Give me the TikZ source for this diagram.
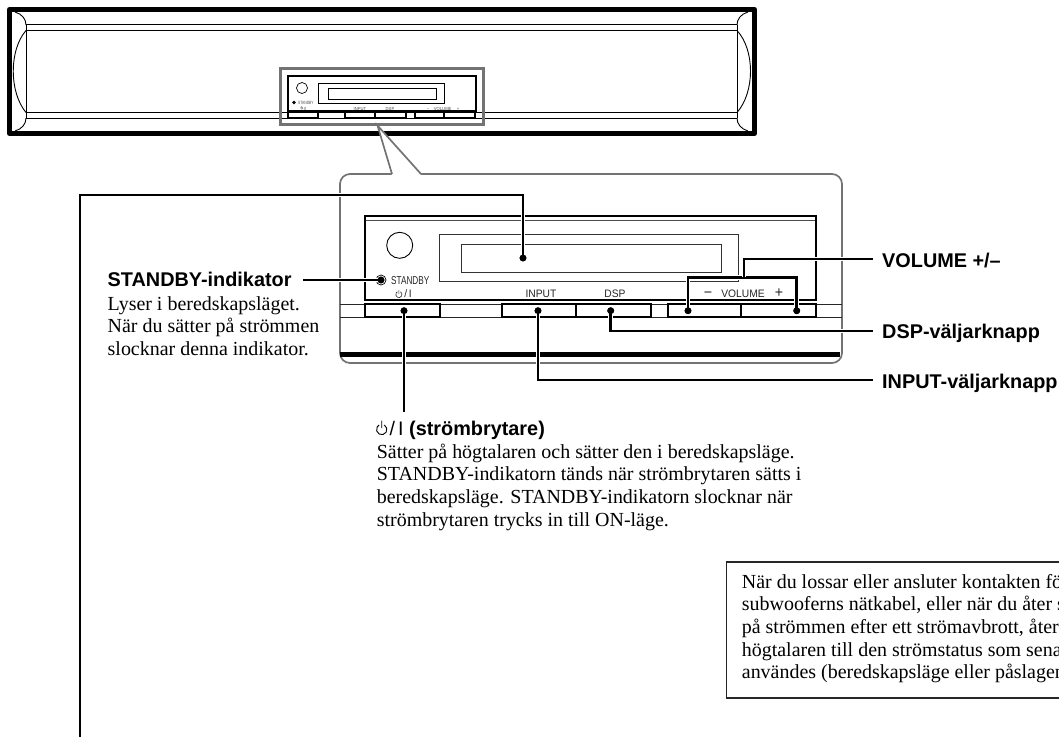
\documentclass[tikz,border=0pt]{standalone}
\usepackage{fontspec}
\setmainfont{Liberation Serif}
\setsansfont{Liberation Sans}
\newfontfamily\narrowf[FakeStretch=0.72]{Liberation Sans}
\newfontfamily\panelf[FakeStretch=0.95]{Liberation Sans}
\newcommand{\fs}[2]{\fontsize{#1}{#2}\selectfont}
\tikzset{
  x=1pt,y=-1pt,
  heavy/.style={line width=5pt,line join=round},
  blk/.style={line width=1.8pt},
  greybox/.style={draw=black!55,line width=1.7pt},
  leader/.style={line width=2.7pt,preaction={draw=white,line width=4.8pt}},
  dotn/.style={circle,fill=black,inner sep=0pt,minimum size=6.8pt},
  ctext/.style={font=\fs{19.95}{22.65}\rmfamily,anchor=north west,inner sep=0pt,align=left},
  head/.style={font=\fs{19.85}{22.7}\sffamily\bfseries,anchor=base west,inner sep=0pt},
  plab/.style={font=\fs{10.8}{11}\panelf,inner sep=0pt,text=black!85,anchor=base},
  slab/.style={font=\fs{4.4}{5}\panelf,inner sep=0pt,text=black!70,anchor=base},
}
\newcommand{\fl}{\rule{0pt}{15pt}}
\begin{document}
\begin{tikzpicture}
\useasboundingbox (0,0) rectangle (1059,739);
% speaker body
\draw[heavy] (9.5,9.5) rectangle (754.5,133.5);
\draw[line width=1pt] (26,24.5) -- (737,24.5) (26,30.5) -- (737,30.5) (26,112.5) -- (737,112.5) (26,118) -- (737,118);
\draw[line width=.9pt] (26,24.5) -- (26,118) (737,24.5) -- (737,118);
\draw[line width=.9pt] (15,12) .. controls (22,14) and (26,19) .. (26,25);
\draw[line width=.9pt] (26,30.5) .. controls (9,50) and (9,92) .. (26,112.5);
\draw[line width=.9pt] (26,118) .. controls (26,124) and (22,129) .. (15,131);
\draw[line width=.9pt] (748,12) .. controls (741,14) and (737,19) .. (737,25);
\draw[line width=.9pt] (737,30.5) .. controls (755,50) and (755,92) .. (737,112.5);
\draw[line width=.9pt] (737,118) .. controls (737,124) and (741,129) .. (748,131);
% small panel
\draw[line width=2pt,fill=white] (287.5,75.5) rectangle (475.5,110.7);
\draw[line width=.7pt] (302,88) circle (5.5);
\draw[line width=.7pt] (318,83) rectangle (444,103);
\draw[line width=.7pt] (328,88) rectangle (436,99);
\fill (294,102.5) circle (1.9);
\node[slab,anchor=west,font=\fs{4.6}{5}\narrowf] (sst) at (298,102.5) {STANDBY};
\draw[line width=.3pt,black!70] (302.5,106.9) arc (300:600:1.3) (301.8,106) -- (301.8,107.6);
\node[slab] (spw) at (305.2,110) {/I};
\node[slab] (sin) at (360,110) {INPUT};
\node[slab] (sds) at (390,110) {DSP};
\node[slab] (smi) at (428,110) {−};
\node[slab] (svo) at (442.7,110) {VOLUME};
\node[slab] (spl) at (458,110) {+};
\foreach \a/\b in {288/318,345/375,375/406,415/444,444/475}
  \draw[line width=1.2pt] (\a,110.7) -- (\a,117.3) -- (\b,117.3) -- (\b,110.7);
% grey detail frame
\draw[draw=black!55,line width=2.4pt] (280.5,68.5) rectangle (483.5,124.5);
% callout
\draw[greybox,fill=white,rounded corners=10pt] (340,174) rectangle (842,363);
\fill[white] (378,125.5) -- (392,175) -- (421,175) -- cycle;
\draw[greybox,line join=miter] (392,174) -- (377.5,125.5) -- (421,174);
% big panel
\draw[line width=1pt,black!85] (340,304) -- (842,304) (340,317.6) -- (842,317.6);
\draw[blk] (365,300.3) -- (365,215.7) -- (816,215.7) -- (816,300.3) -- cycle;
\draw[line width=1pt,black!70] (365.5,220) -- (815,220);
\fill (340,351.7) rectangle (840,357.3);
\draw[line width=.9pt] (399.7,245.3) circle (13);
\draw[line width=.9pt,black!80] (439,234) rectangle (738,281.7);
\draw[line width=.9pt,black!80] (461,244.7) rectangle (721.7,272);
\foreach \a/\b in {365/440,502/575.7,575.7/650.7,667.7/741,741/816}
  \draw[blk,fill=white] (\a,304) rectangle (\b,317);
% LED and panel labels
\draw[line width=.7pt] (381,280) circle (5);
\node[dotn] (led) at (381,280) {};
\node[font=\fs{11.4}{12}\narrowf,inner sep=0pt,anchor=base west,text=black!85] (pst) at (391,284) {STANDBY};
\node[plab] (pin) at (541,297.3) {INPUT};
\node[plab] (pds) at (615,297.3) {DSP};
\node[plab] (pvo) at (743,297.3) {VOLUME};
\node[plab,font=\fs{15}{15}\panelf] (pmi) at (708,297.8) {−};
\node[plab,font=\fs{15}{15}\panelf] (ppl) at (779,297.8) {+};
% power glyph on panel
\draw[line width=.6pt,black!85] (400.45,291.8) arc (300:600:3.1) (398.9,290) -- (398.9,294);
\node[plab,anchor=base west] (pslash) at (404.2,297.3) {/\hspace{1.6pt}I};
% dots
\node[dotn] (ddisp) at (523,258) {};
\node[dotn] (dpow) at (404,310.7) {};
\node[dotn] (dinp) at (538,310.7) {};
\node[dotn] (ddsp) at (610.7,310.7) {};
\node[dotn] (dvl) at (688,310.7) {};
\node[dotn] (dvr) at (796.7,310.7) {};
% connector ends
\coordinate (ka) at (80,195);
\coordinate (kb) at (80,737);
\coordinate (kst) at (303,280);
\coordinate (kpw) at (404,411.7);
\coordinate (kvo) at (873,259);
\coordinate (kds) at (873,331);
\coordinate (kin) at (873,380);
\coordinate (kvj) at (744,277.3);
% connectors
\draw[leader,line join=miter] (ddisp.center) |- (ka) -- (kb);
\draw[leader] (kst) -- (led.center);
\draw[leader] (dpow.center) -- (kpw);
\draw[leader] (dinp.center) |- (kin);
\draw[leader] (ddsp.center) |- (kds);
\draw[leader] (dvl.center) |- (kvj) -| (dvr.center);
\draw[leader] (kvj) |- (kvo);
\node[dotn] at (ddisp) {};
\node[dotn] at (dpow) {};
\node[dotn] at (dinp) {};
\node[dotn] at (ddsp) {};
\node[dotn] at (dvl) {};
\node[dotn] at (dvr) {};
\node[dotn] at (led) {};
% labels
\node[head] (lvo) at (882,267) {VOLUME +/–};
\node[head] (lds) at (882,338) {DSP-väljarknapp};
\node[head] (lin) at (882,388) {INPUT-väljarknapp};
\node[head] (lst) at (107.5,286.7) {STANDBY-indikator};
\node[ctext] (tst) at (107.5,295) {\fl Lyser i beredskapsläget.\\När du sätter på strömmen\\slocknar denna indikator.};
% power heading
\draw[line width=.9pt] (384.3,425) arc (300:600:5.2) (381.7,420.5) -- (381.7,428);
\node[font=\fs{19.6}{22.7}\sffamily,inner sep=0pt,anchor=base west] (hsl) at (389.3,435) {/\hspace{3.2pt}I};
\node[head] (hpw) at (409,435) {(strömbrytare)};
\node[ctext] (tpw) at (376.7,443) {\fl Sätter på högtalaren och sätter den i beredskapsläge.\\STANDBY-indikatorn tänds när strömbrytaren sätts i\\beredskapsläge. STANDBY-indikatorn slocknar när\\strömbrytaren trycks in till ON-läge.};
% note box
\draw[line width=1.2pt,black!85] (1059,562) -- (726.7,562) -- (726.7,698) -- (1059,698);
\node[ctext] (tnote) at (741.7,573) {\fl När du lossar eller ansluter kontakten fö\\subwooferns nätkabel, eller när du åter s\\på strömmen efter ett strömavbrott, åter\\högtalaren till den strömstatus som sena\\användes (beredskapsläge eller påslagen};
\end{tikzpicture}
\end{document}
